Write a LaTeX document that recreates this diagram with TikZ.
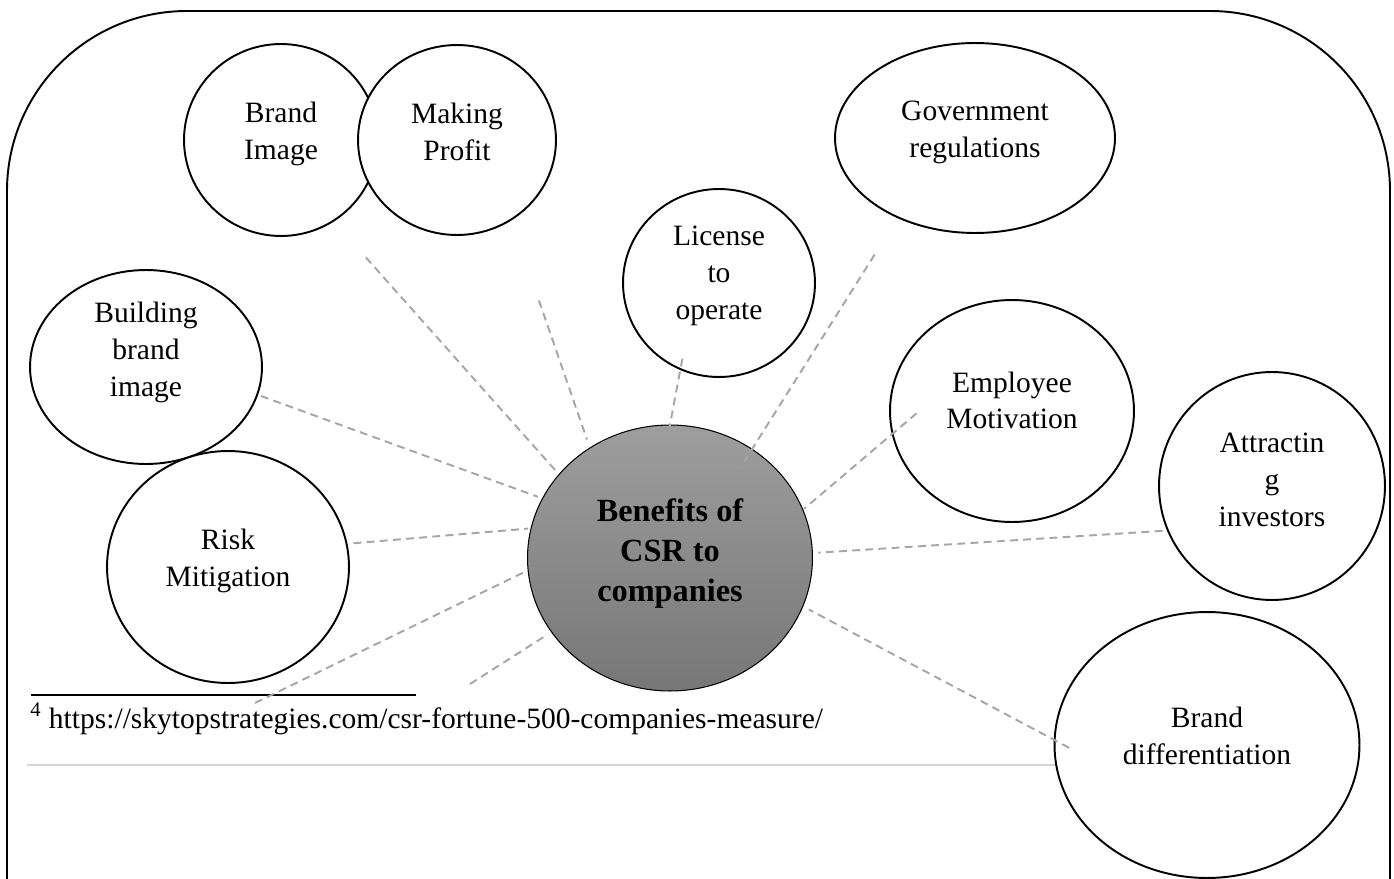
\documentclass[tikz,border=0pt]{standalone}
\usepackage{fontspec}
\setmainfont{Liberation Serif}
\usepackage{tikz}
\usetikzlibrary{shapes.geometric}
\definecolor{dashG}{HTML}{A6A6A6}
\definecolor{ruleG}{HTML}{D6D6D6}
\definecolor{hubTop}{HTML}{9E9E9E}
\definecolor{hubBot}{HTML}{777777}
\newcommand{\lifted}[2]{\raisebox{#1}[\height][\depth]{\begin{tabular}{@{}c@{}}#2\end{tabular}}}

\begin{document}
\begin{tikzpicture}[x=0.02cm,y=-0.02cm,
  bubble/.style={ellipse,draw,line width=1.1pt,fill=white,inner sep=0pt,
                 font=\fontsize{16.8}{21}\selectfont},
  link/.style={dashG,line width=1.1pt,dash pattern=on 4.5pt off 3pt}]
  \useasboundingbox (0,0) rectangle (1394,879);
  % frame, open at the bottom
  \draw[line width=1.1pt,rounded corners=3.6cm] (7,879) -- (7,11) -- (1390,11) -- (1390,879);
  % footnote
  \draw[line width=1.1pt] (31,695) -- (416,695);
  \node[anchor=base west,inner sep=0pt,font=\fontsize{16.8}{18}\selectfont] (fnote) at (30,728)
        {\textsuperscript{4} https://skytopstrategies.com/csr-fortune-500-companies-measure/};
  \draw[ruleG,line width=1.1pt] (27,765) -- (1100,765);
  % bubbles
  \node[bubble,minimum width=3.88cm,minimum height=3.84cm] (bimg) at (281,140) {\lifted{3.7pt}{Brand\\Image}};
  \node[bubble,minimum width=3.96cm,minimum height=3.80cm] (prof) at (457,140) {\lifted{3pt}{Making\\Profit}};
  \node[bubble,minimum width=5.60cm,minimum height=3.80cm] (gov) at (975,138) {\lifted{3.7pt}{Government\\regulations}};
  \node[bubble,minimum width=3.84cm,minimum height=3.76cm] (lic) at (719,283) {\lifted{4.5pt}{License\\to\\operate}};
  \node[bubble,minimum width=4.64cm,minimum height=3.88cm] (bbi) at (146,367) {\lifted{8.4pt}{Building\\brand\\image}};
  \node[bubble,minimum width=4.88cm,minimum height=4.44cm] (emp) at (1012,411) {\lifted{4.5pt}{Employee\\Motivation}};
  \node[bubble,minimum width=4.52cm,minimum height=4.56cm] (att) at (1272,486) {\lifted{2pt}{Attractin\\g\\investors}};
  \node[bubble,minimum width=4.84cm,minimum height=4.64cm] (risk) at (228,567) {\lifted{3.7pt}{Risk\\Mitigation}};
  \node[bubble,minimum width=6.10cm,minimum height=5.32cm] (bdif) at (1207,745) {\lifted{3.7pt}{Brand\\differentiation}};
  \node[bubble,line width=0.6pt,top color=hubTop,bottom color=hubBot,
        minimum width=5.70cm,minimum height=5.32cm,font=\fontsize{18.4}{22.7}\selectfont\bfseries]
        (hub) at (670,558) {\lifted{2.6pt}{Benefits of\\CSR to\\companies}};
  % dashed spokes
  \foreach \n/\an/\sa/\ah/\sb in {bimg/-57.2/0.96/143.6/0.1, prof/-56.5/1.69/126.1/0.17,
      bbi/-14.1/0.06/155.4/0.09, lic/-114.1/-0.23/90.8/-0.1, gov/-134.9/0.86/53.3/-0.43,
      emp/-169.7/-0.65/20.5/0.02, risk/11.8/0.12/168.6/0.05, att/-157.3/0.09/2.7/0.11,
      bdif/178.1/-0.35/-20.7/0.13}
    \draw[link,shorten <=\sa cm,shorten >=\sb cm] (\n.\an) -- (hub.\ah);
  \coordinate (tailA) at (255,703);
  \coordinate (tailB) at (470,684);
  \draw[link,shorten >=0.02cm] (tailA) -- (hub.-175.3);
  \draw[link,shorten >=0.09cm] (tailB) -- (hub.-148.7);
\end{tikzpicture}
\end{document}
